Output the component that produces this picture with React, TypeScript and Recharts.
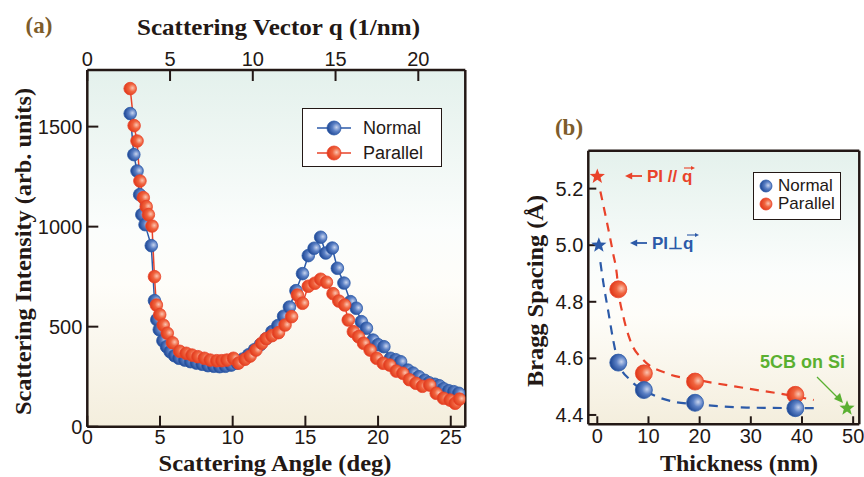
import React from 'react';
import { ComposedChart, Line, Scatter, XAxis, YAxis, CartesianGrid, Legend } from 'recharts';

// (a) scattering profiles
const normalAngle = [2.95, 3.2, 3.42, 3.6, 3.75, 3.97, 4.4, 4.62, 4.78, 4.95, 5.2, 5.45, 5.7, 6.0, 6.3, 6.7, 7.1, 7.5, 7.9, 8.3, 8.7, 9.1, 9.5, 9.9, 10.3, 10.7, 11.1, 11.5, 11.9, 12.3, 12.7, 13.1, 13.5, 13.9, 14.35, 14.8, 15.2, 15.6, 16.05, 16.4, 16.85, 17.2, 17.65, 18.1, 18.5, 18.85, 19.2, 19.65, 20.0, 20.4, 20.85, 21.2, 21.55, 22.05, 22.4, 22.8, 23.2, 23.5, 23.9, 24.2, 24.5, 24.85, 25.2, 25.55];
const normalIntensity = [1565, 1360, 1278, 1160, 1060, 1010, 905, 630, 535, 485, 430, 400, 375, 355, 342, 333, 325, 318, 312, 305, 302, 300, 302, 308, 318, 338, 360, 385, 410, 440, 475, 505, 552, 598, 680, 765, 855, 892, 947, 868, 893, 792, 718, 625, 592, 525, 492, 433, 410, 400, 342, 335, 325, 283, 268, 250, 232, 220, 212, 205, 190, 180, 175, 167];
const parallelAngle = [2.95, 3.22, 3.42, 3.62, 3.85, 4.05, 4.2, 4.45, 4.62, 4.75, 4.98, 5.22, 5.5, 5.85, 6.35, 6.8, 7.2, 7.6, 8.05, 8.45, 8.9, 9.25, 9.6, 10.05, 10.4, 10.85, 11.2, 11.6, 12.0, 12.3, 12.7, 13.15, 13.6, 14.05, 14.45, 14.8, 15.2, 15.65, 16.05, 16.45, 16.9, 17.3, 17.7, 17.95, 18.3, 18.65, 19.0, 19.45, 19.9, 20.35, 20.8, 21.25, 21.7, 22.15, 22.6, 23.05, 23.55, 24.0, 24.5, 24.95, 25.3, 25.6];
const parallelIntensity = [1690, 1505, 1428, 1228, 1145, 1100, 1060, 1003, 750, 608, 560, 508, 467, 420, 377, 367, 358, 350, 342, 333, 330, 330, 333, 342, 318, 337, 353, 383, 417, 440, 455, 470, 508, 550, 658, 617, 702, 717, 737, 722, 665, 628, 608, 533, 475, 450, 417, 383, 342, 317, 308, 278, 267, 235, 217, 202, 208, 167, 142, 133, 117, 138];
const angleTicks = [0, 5, 10, 15, 20, 25];
const qTicks = [0, 5, 10, 15, 20];
const intensityTicks = [0, 500, 1000, 1500];

// (b) Bragg spacing vs thickness
const thickness = [4.1, 9.1, 19.1, 38.7];
const normalSpacing = [4.585, 4.488, 4.443, 4.424];
const parallelSpacing = [4.844, 4.547, 4.518, 4.471];
const normalFitX = [0.6, 1.2, 2.2, 3.1, 4.1, 6.4, 9.7, 14.9, 19.5, 29.2, 42.3];
const normalFitY = [4.94, 4.865, 4.76, 4.665, 4.585, 4.524, 4.482, 4.447, 4.438, 4.426, 4.424];
const parallelFitX = [0.6, 1.8, 3.1, 3.8, 4.1, 5.1, 6.4, 9.0, 13.6, 19.5, 29.2, 37.1, 42.3];
const parallelFitY = [5.19, 5.088, 4.97, 4.9, 4.844, 4.747, 4.665, 4.594, 4.547, 4.524, 4.494, 4.471, 4.453];
const piParallel = [{ x: 0, y: 5.243 }];
const piNormal = [{ x: 0.3, y: 5.0 }];
const cbOnSi = [{ x: 48.8, y: 4.424 }];
const thicknessTicks = [0, 10, 20, 30, 40, 50];
const spacingTicks = [4.4, 4.6, 4.8, 5.0, 5.2];

const toXY = (xs: number[], ys: number[]) => xs.map((x, i) => ({ x, y: ys[i] }));

const normalData = toXY(normalAngle, normalIntensity);
const parallelData = toXY(parallelAngle, parallelIntensity);
// anchors so the frame-only axes (top / right) get a domain and draw their ticks
const qAnchor = qTicks.map((q, i) => ({ x: q, y: intensityTicks[i % intensityTicks.length] }));
const frameAnchorB = thicknessTicks.map((t, i) => ({ x: t, y: spacingTicks[i % spacingTicks.length] }));

const SANS = '"Liberation Sans", Arial, sans-serif';
const SERIF = '"Liberation Serif", "Times New Roman", serif';
const INK = '#231815';
const BLUE = '#2c5aa8';
const RED = '#e9432a';
const GREEN = '#5ab031';

const axisLine = { stroke: INK, strokeWidth: 2.5 };
const tickLine = { stroke: INK, strokeWidth: 2 };
const nothing = () => <g />;

const ballDot = (r: number, fill: string, stroke: string) => (p: any) =>
  p.cx == null ? <g key={p.index} /> : (
    <circle key={p.index} cx={p.cx} cy={p.cy} r={r} fill={fill} stroke={stroke} strokeWidth={0.8} />
  );

const star = (color: string) => (p: any) => {
  const pts: string[] = [];
  for (let i = 0; i < 10; i++) {
    const rad = i % 2 === 0 ? 8 : 3.4;
    const a = -Math.PI / 2 + (i * Math.PI) / 5;
    pts.push(`${p.cx + rad * Math.cos(a)},${p.cy + rad * Math.sin(a)}`);
  }
  return <polygon points={pts.join(' ')} fill={color} />;
};

const Gradients = () => (
  <defs>
    <linearGradient id="bgPanel" x1="0" y1="0" x2="0" y2="1">
      <stop offset="0%" stopColor="#e4f1ec" />
      <stop offset="45%" stopColor="#fbfdfc" />
      <stop offset="60%" stopColor="#fefdf9" />
      <stop offset="100%" stopColor="#f4eedd" />
    </linearGradient>
    <radialGradient id="ballBlue" cx="68%" cy="45%" r="65%">
      <stop offset="0%" stopColor="#c8d4ee" />
      <stop offset="45%" stopColor="#5a7fc4" />
      <stop offset="100%" stopColor="#1f4895" />
    </radialGradient>
    <radialGradient id="ballRed" cx="68%" cy="45%" r="65%">
      <stop offset="0%" stopColor="#fbc4b0" />
      <stop offset="45%" stopColor="#f0643f" />
      <stop offset="100%" stopColor="#e0391a" />
    </radialGradient>
  </defs>
);

const LegendA = () => (
  <div style={{ width: 140, height: 59, boxSizing: 'border-box', border: `1px solid ${INK}`, background: '#fff', position: 'relative', fontFamily: SANS, fontSize: 18, color: INK }}>
    {[
      { name: 'Normal', c: BLUE, g: 'url(#ballBlue)', top: 8 },
      { name: 'Parallel', c: RED, g: 'url(#ballRed)', top: 33 },
    ].map((e) => (
      <div key={e.name} style={{ position: 'absolute', left: 0, top: e.top, height: 22, display: 'flex', alignItems: 'center' }}>
        <svg width={58} height={22}>
          <line x1={14} x2={48} y1={11} y2={11} stroke={e.c} strokeWidth={1.5} />
          <circle cx={31} cy={11} r={7} fill={e.g} stroke={e.c} strokeWidth={0.8} />
        </svg>
        <span style={{ marginLeft: 2 }}>{e.name}</span>
      </div>
    ))}
  </div>
);

const LegendB = () => (
  <div style={{ width: 88, height: 48, boxSizing: 'border-box', border: `1px solid ${INK}`, background: '#fff', position: 'relative', fontFamily: SANS, fontSize: 17, color: INK }}>
    {[
      { name: 'Normal', c: BLUE, g: 'url(#ballBlue)', top: 3 },
      { name: 'Parallel', c: RED, g: 'url(#ballRed)', top: 21 },
    ].map((e) => (
      <div key={e.name} style={{ position: 'absolute', left: 0, top: e.top, height: 20, display: 'flex', alignItems: 'center' }}>
        <svg width={22} height={20}>
          <circle cx={12} cy={10} r={6} fill={e.g} stroke={e.c} strokeWidth={0.8} />
        </svg>
        <span style={{ marginLeft: 2 }}>{e.name}</span>
      </div>
    ))}
  </div>
);

function PanelA() {
  return (
    <ComposedChart width={480} height={477} margin={{ top: 30, right: 13.7, bottom: 20.3, left: 27.3 }}>
      <Gradients />
      <CartesianGrid horizontal={false} vertical={false} fill="url(#bgPanel)" xAxisId="deg" yAxisId="left" />
      <XAxis xAxisId="deg" dataKey="x" type="number" domain={[0, 26]} ticks={angleTicks} allowDataOverflow height={30}
        axisLine={axisLine} tickLine={tickLine} tickSize={-11} tickMargin={14}
        tick={{ fill: INK, fontSize: 20, fontFamily: SANS }} />
      <XAxis xAxisId="q" dataKey="x" orientation="top" type="number" domain={[0, 22.84]} ticks={qTicks} allowDataOverflow height={40}
        axisLine={axisLine} tickLine={tickLine} tickSize={-11} tickMargin={15}
        tick={{ fill: INK, fontSize: 20, fontFamily: SANS }} />
      <YAxis yAxisId="left" dataKey="y" type="number" domain={[0, 1783]} ticks={intensityTicks} allowDataOverflow width={60}
        axisLine={axisLine} tickLine={tickLine} tickSize={-11} tickMargin={16}
        tick={{ fill: INK, fontSize: 20, fontFamily: SANS }} />
      <YAxis yAxisId="right" dataKey="y" orientation="right" type="number" domain={[0, 1783]} ticks={intensityTicks} allowDataOverflow width={1}
        axisLine={axisLine} tickLine={tickLine} tickSize={-11} tick={false} />
      <Scatter xAxisId="q" yAxisId="right" data={qAnchor} shape={nothing} legendType="none" isAnimationActive={false} />
      <Line xAxisId="deg" yAxisId="left" name="Normal" data={normalData} dataKey="y" stroke={BLUE} strokeWidth={1.5}
        dot={ballDot(6.3, 'url(#ballBlue)', BLUE)} isAnimationActive={false} />
      <Line xAxisId="deg" yAxisId="left" name="Parallel" data={parallelData} dataKey="y" stroke={RED} strokeWidth={1.5}
        dot={ballDot(6.3, 'url(#ballRed)', RED)} isAnimationActive={false} />
      <Legend layout="horizontal" verticalAlign="middle" align="center" content={<LegendA />}
        wrapperStyle={{ left: 302, top: 108, width: 140, height: 59 }} />
    </ComposedChart>
  );
}

function PanelB() {
  return (
    <ComposedChart width={364} height={377} margin={{ top: 20.7, right: 3.7, bottom: 22.7, left: 28.3 }}>
      <Gradients />
      <CartesianGrid horizontal={false} vertical={false} fill="url(#bgPanel)" />
      <XAxis dataKey="x" type="number" domain={[-1.76, 51.2]} ticks={thicknessTicks} allowDataOverflow height={30}
        axisLine={axisLine} tickLine={tickLine} tickSize={-8} tickMargin={12}
        tick={{ fill: INK, fontSize: 20, fontFamily: SANS }} />
      <XAxis xAxisId="top" dataKey="x" orientation="top" type="number" domain={[-1.76, 51.2]} ticks={thicknessTicks} allowDataOverflow height={30}
        axisLine={axisLine} tickLine={tickLine} tickSize={-8} tick={false} />
      <YAxis dataKey="y" type="number" domain={[4.367, 5.334]} ticks={spacingTicks} allowDataOverflow width={60}
        axisLine={axisLine} tickLine={tickLine} tickSize={-8} tickMargin={13}
        tickFormatter={(v: number) => v.toFixed(1)}
        tick={{ fill: INK, fontSize: 20, fontFamily: SANS }} />
      <YAxis yAxisId="right" dataKey="y" orientation="right" type="number" domain={[4.367, 5.334]} ticks={spacingTicks} allowDataOverflow width={1}
        axisLine={axisLine} tickLine={tickLine} tickSize={-8} tick={false} />
      <Scatter xAxisId="top" yAxisId="right" data={frameAnchorB} shape={nothing} legendType="none" isAnimationActive={false} />
      <Line data={toXY(parallelFitX, parallelFitY)} dataKey="y" type="monotone" stroke={RED} strokeWidth={2.2}
        strokeDasharray="9 7" dot={false} legendType="none" isAnimationActive={false} />
      <Line data={toXY(normalFitX, normalFitY)} dataKey="y" type="monotone" stroke={BLUE} strokeWidth={2.2}
        strokeDasharray="9 7" dot={false} legendType="none" isAnimationActive={false} />
      <Scatter name="Parallel" data={toXY(thickness, parallelSpacing)} shape={ballDot(8.5, 'url(#ballRed)', RED)} isAnimationActive={false} />
      <Scatter name="Normal" data={toXY(thickness, normalSpacing)} shape={ballDot(8.5, 'url(#ballBlue)', BLUE)} isAnimationActive={false} />
      <Scatter data={piParallel} shape={star(RED)} legendType="none" isAnimationActive={false} />
      <Scatter data={piNormal} shape={star(BLUE)} legendType="none" isAnimationActive={false} />
      <Scatter data={cbOnSi} shape={star(GREEN)} legendType="none" isAnimationActive={false} />
      <Legend layout="horizontal" verticalAlign="middle" align="center" content={<LegendB />}
        wrapperStyle={{ left: 253, top: 72, width: 88, height: 48 }} />
    </ComposedChart>
  );
}

// small arrow: shaft from (x1,y) to (x2,y), head at x2
const Arrow = ({ x1, x2, y, color, head = 4, w = 1.6 }: { x1: number; x2: number; y: number; color: string; head?: number; w?: number }) => {
  const d = x2 > x1 ? 1 : -1;
  return (
    <g>
      <line x1={x1} y1={y} x2={x2 - d * head} y2={y} stroke={color} strokeWidth={w} />
      <polygon points={`${x2},${y} ${x2 - d * head * 1.6},${y - head * 0.8} ${x2 - d * head * 1.6},${y + head * 0.8}`} fill={color} />
    </g>
  );
};

export default function App() {
  return (
    <div style={{ position: 'absolute', left: 0, top: 0, width: 864, height: 477, background: '#fff', overflow: 'hidden' }}>
      <div style={{ position: 'absolute', left: 0, top: 0 }}><PanelA /></div>
      <div style={{ position: 'absolute', left: 500, top: 100 }}><PanelB /></div>
      <svg width={864} height={477} style={{ position: 'absolute', left: 0, top: 0, pointerEvents: 'none' }}>
        <g fontFamily={SERIF} fontWeight="bold" fill={INK} fontSize={23}>
          <text x={39} y={33} textAnchor="middle" fill="#7d5c2a">(a)</text>
          <text x={278.5} y={35} textAnchor="middle" textLength={283} lengthAdjust="spacingAndGlyphs">Scattering Vector q (1/nm)</text>
          <text transform="translate(31,251.5) rotate(-90)" textAnchor="middle" textLength={327} lengthAdjust="spacingAndGlyphs">Scattering Intensity (arb. units)</text>
          <text x={275} y={471} textAnchor="middle" textLength={233} lengthAdjust="spacingAndGlyphs">Scattering Angle (deg)</text>
          <text x={569} y={135} textAnchor="middle" fill="#7d5c2a">(b)</text>
          <text transform="translate(543,291) rotate(-90)" textAnchor="middle" textLength={192} lengthAdjust="spacingAndGlyphs">Bragg Spacing (Å)</text>
          <text x={739} y={471} textAnchor="middle" textLength={158} lengthAdjust="spacingAndGlyphs">Thickness (nm)</text>
        </g>
        <g fontFamily={SANS} fontWeight="bold" fontSize={17}>
          <Arrow x1={642} x2={625} y={176} color={RED} head={4.5} w={1.8} />
          <text x={647} y={182} fill={RED}>PI // q</text>
          <Arrow x1={684} x2={695} y={168} color={RED} head={2.5} w={1.1} />
          <Arrow x1={647} x2={630} y={243} color={BLUE} head={4.5} w={1.8} />
          <text x={652} y={249} fill={BLUE}>PI⊥q</text>
          <Arrow x1={687} x2={699} y={235} color={BLUE} head={2.5} w={1.1} />
          <text x={760} y={368} fill={GREEN} fontSize={18}>5CB on Si</text>
        </g>
        <line x1={817} y1={377} x2={839} y2={399} stroke={GREEN} strokeWidth={1.3} />
        <polygon points="843,403 834,399 840,393" fill={GREEN} />
      </svg>
    </div>
  );
}
